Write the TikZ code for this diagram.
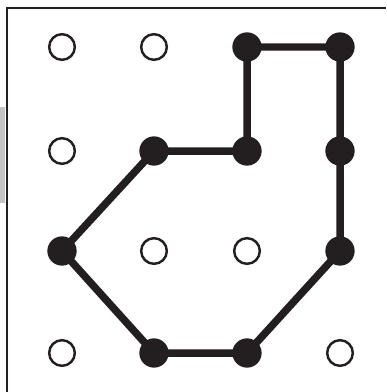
\documentclass[tikz,border=0pt]{standalone}
\usepackage{tikz}
\usetikzlibrary{positioning}
\definecolor{Dark}{HTML}{231F20}
\definecolor{Tab}{HTML}{C4C4C4}
\tikzset{
    hole/.style={circle, draw=Dark, line width=2.1pt, fill=white, inner sep=0pt, minimum size=0.77cm},
    peg/.style={circle, fill=Dark, inner sep=0pt, minimum size=0.88cm},
    band/.style={Dark, line width=6.4pt, line join=round},
}

\begin{document}
\begin{tikzpicture}[x=0.03cm, y=-0.03cm]
    \useasboundingbox (0,0) rectangle (386,392);

    % Cornice
    \fill[Tab] (0,107) rectangle (5,203);
    \draw[Dark, line width=1.6pt] (7,392) -- (7,8) -- (386,8);

    % Chiodi
    \foreach \c/\x in {1/62, 2/154, 3/247, 4/340}
        \foreach \r/\y in {1/47, 2/151, 3/251, 4/353}
            \coordinate (p\c\r) at (\x,\y);

    % Elastico
    \draw[band] (p31) -- (p41) -- (p42) -- (p43) -- (p34) -- (p24)
        -- (p13) -- (p22) -- (p32) -- cycle;

    % Punti liberi
    \foreach \p in {11, 21, 12, 23, 33, 14, 44}
        \node[hole] (h\p) at (p\p) {};
    % Punti usati
    \foreach \p in {31, 41, 22, 32, 42, 13, 43, 24, 34}
        \node[peg] (k\p) at (p\p) {};
\end{tikzpicture}
\end{document}
